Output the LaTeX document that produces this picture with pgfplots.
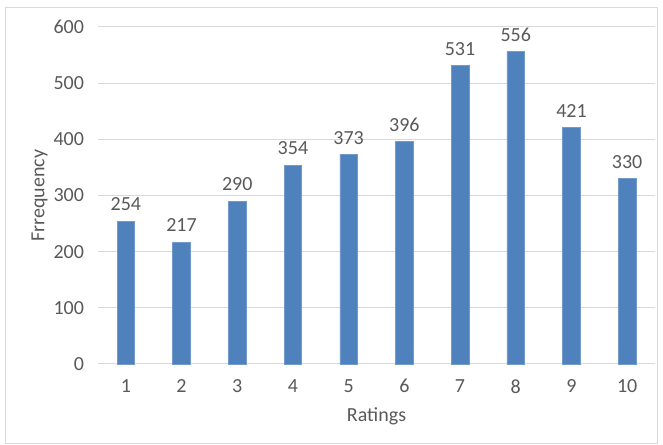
\documentclass[border=0pt]{standalone}
\usepackage{fontspec}
\setmainfont{Carlito}
\usepackage{pgfplots}
\pgfplotsset{compat=1.18}
\definecolor{barblue}{HTML}{4F81BD}
\definecolor{gridgray}{HTML}{D9D9D9}
\definecolor{txtgray}{HTML}{595959}
\begin{document}
\begin{tikzpicture}[x=0.75pt,y=0.75pt]
\useasboundingbox (-98,-81) rectangle (565,364);
\draw[gridgray, line width=0.75pt] (-92,-80) rectangle (559,356);
\begin{axis}[
  at={(0,0)}, anchor=origin,
  scale only axis,
  width=417.75pt, height=252.75pt,
  xmin=0.5, xmax=10.5, ymin=0, ymax=600,
  ytick={0,100,...,600},
  xtick={1,...,10},
  axis line style={draw=none},
  tick style={draw=none},
  ymajorgrids, grid style={gridgray, line width=0.75pt},
  /pgf/number format/assume math mode=true,
  ticklabel style={font=\fontsize{15}{17}\selectfont, text=txtgray},
  yticklabel style={anchor=east, xshift=-7pt},
  xticklabel style={anchor=north, yshift=-8pt},
  xlabel={Ratings}, ylabel={Frrequency},
  label style={font=\fontsize{15}{17}\selectfont, text=txtgray},
  xlabel style={at={(axis description cs:0.5,-0.1543)}, anchor=center},
  ylabel style={at={(axis description cs:-0.105,0.5)}, anchor=center},
  clip=false,
]
\draw[gridgray, line width=0.75pt] (axis cs:0.5,0) -- (axis cs:10.5,0);
\addplot[ybar, bar width=13.2pt, fill=barblue, draw=barblue!80!white,
  nodes near coords,
  every node near coord/.append style={font=\fontsize{15}{17}\selectfont, text=txtgray, yshift=4.2pt}]
coordinates {(1,254) (2,217) (3,290) (4,354) (5,373) (6,396) (7,531) (8,556) (9,421) (10,330)};
\end{axis}
\end{tikzpicture}
\end{document}
